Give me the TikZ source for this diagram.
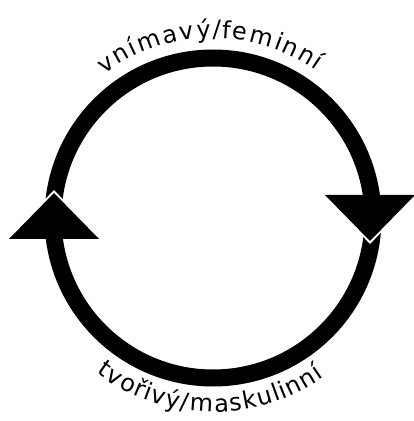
\documentclass[tikz,border=0pt]{standalone}
\usepackage{fontspec}
\setmainfont{DejaVu Sans}
\newfontfamily\lblfont{DejaVu Sans}
\usetikzlibrary{decorations.text}
\tikzset{
  ring/.style={line width=17pt},
  gapline/.style={draw=white,line width=4pt,miter limit=10},
  headfill/.style={fill=black},
  arctext/.style={decorate,decoration={text effects along path,
     text={#1},
     text effects/.cd, text along path, fit text to path,
     characters={anchor=base,inner sep=0pt,font=\lblfont\fontsize{24}{24}\selectfont}}}
}
\begin{document}
\begin{tikzpicture}[x=1pt,y=1pt]
\useasboundingbox (0,0) rectangle (414,421);
\coordinate (c) at (213,203);
\draw[ring] (c) circle[radius=160];
\path[arctext={vnímavý/feminní}] (c) ++(127:180) arc[start angle=127,end angle=55,radius=180];
\path[arctext={tvořivý/maskulinní}] (c) ++(233:194) arc[start angle=233,end angle=305,radius=194];
% left arrowhead (pointing up)
\coordinate (la) at (54,228);
\coordinate (ll) at (9,182);
\coordinate (lr) at (99,182);
\path[gapline] (ll) -- (la) -- (lr);
\path[headfill] (ll) -- (la) -- (lr) -- cycle;
% right arrowhead (pointing down)
\coordinate (ra) at (370,180);
\coordinate (rl) at (325,226);
\coordinate (rr) at (415,226);
\path[gapline] (rl) -- (ra) -- (rr);
\path[headfill] (rl) -- (ra) -- (rr) -- cycle;
\end{tikzpicture}
\end{document}
